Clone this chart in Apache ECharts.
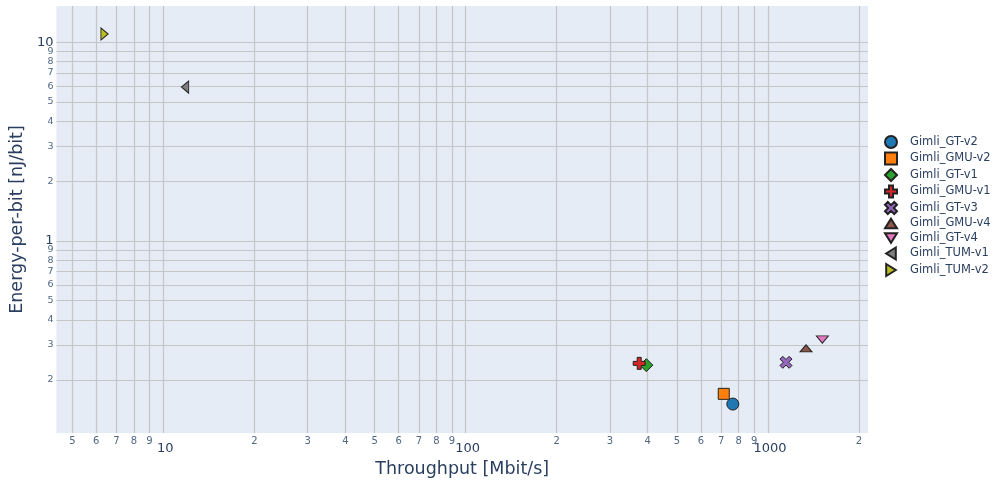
<!DOCTYPE html>
<html>
<head>
<meta charset="utf-8">
<script src="https://cdn.jsdelivr.net/npm/echarts@6/dist/echarts.min.js"></script>
<style>html,body{margin:0;padding:0;background:#fff}#c{width:1006px;height:486px}</style>
</head>
<body>
<div id="c"></div>
<script>
const names = ['Gimli_GT-v2','Gimli_GMU-v2','Gimli_GT-v1','Gimli_GMU-v1','Gimli_GT-v3','Gimli_GMU-v4','Gimli_GT-v4','Gimli_TUM-v1','Gimli_TUM-v2'];
const throughput = [765, 714, 396, 375, 1147, 1336, 1513, 11.8, 6.39];
const energy = [0.151, 0.170, 0.237, 0.242, 0.245, 0.288, 0.319, 5.94, 11.0];
const xTickValues = [5,6,7,8,9,10,20,30,40,50,60,70,80,90,100,200,300,400,500,600,700,800,900,1000,2000];
const yTickValues = [0.2,0.3,0.4,0.5,0.6,0.7,0.8,0.9,1,2,3,4,5,6,7,8,9,10];
const xMajor = [10,100,1000];
const yMajor = [1,10];
// extra blank label slot above the last tick so ECharts' edge-label overlap rule does not drop "9"/"10"
const yLabelValues = yTickValues.concat([15]);

const colors = ['#1f77b4','#ff7f0e','#2ca02c','#d62728','#9467bd','#8c564b','#e377c2','#7f7f7f','#bcbd22'];
const symbols = [
  'circle',
  'rect',
  'diamond',
  'path://M-1,-3 L1,-3 L1,-1 L3,-1 L3,1 L1,1 L1,3 L-1,3 L-1,1 L-3,1 L-3,-1 L-1,-1 Z',
  'path://M-3,-1.6 L-1.6,-3 L0,-1.4 L1.6,-3 L3,-1.6 L1.4,0 L3,1.6 L1.6,3 L0,1.4 L-1.6,3 L-3,1.6 L-1.4,0 Z',
  'path://M5,0 L10,8 L0,8 Z',
  'path://M0,0 L10,0 L5,8 Z',
  'path://M8,0 L8,10 L0,5 Z',
  'path://M0,0 L8,5 L0,10 Z'
];
const sizes = [12, 11, 13, 12, 12, [12,9], [12,9], [9,12], [9,12]];

const FONT = 'DejaVu Sans';
function leadDigit(v){ const e = Math.floor(Math.log10(v)+1e-9); return String(Math.round(v/Math.pow(10,e))); }
function isMajor(list, v){ return list.some(m => Math.abs(m - v) < 1e-6 * m); }

const series = names.map((n,i)=>({
  name: n,
  type: 'scatter',
  data: [[throughput[i], energy[i]]],
  symbol: symbols[i],
  symbolSize: sizes[i],
  symbolKeepAspect: true,
  itemStyle: {color: colors[i], borderColor: '#222', borderWidth: 1, opacity: 1},
  emphasis: {disabled: true}
}));

const gridLine = {show: true, lineStyle: {color: '#c4c5c9', width: 1.2}};

const option = {
  animation: false,
  textStyle: {fontFamily: FONT},
  grid: {left: 56, right: 138, top: 6, bottom: 53, show: true, backgroundColor: '#e5ecf6', borderWidth: 0},
  legend: {
    orient: 'vertical', left: 879, top: 130, itemWidth: 12, itemHeight: 12, itemGap: 2.5,
    textStyle: {fontFamily: FONT, fontSize: 11.5, lineHeight: 12, color: '#2a3f5f', padding: [0,0,0,8]},
    data: names
  },
  xAxis: {
    type: 'log', logBase: 10, min: 4.43, max: 2142,
    name: 'Throughput [Mbit/s]', nameLocation: 'middle', nameGap: 27,
    nameTextStyle: {fontFamily: FONT, fontSize: 17.5, color: '#2a3f5f'},
    axisLine: {show: false}, axisTick: {show: false, customValues: xTickValues},
    splitLine: gridLine, minorSplitLine: {show: false},
    axisLabel: {
      customValues: xTickValues, margin: 3, hideOverlap: false, showMinLabel: true, showMaxLabel: true,
      formatter: v => isMajor(xMajor, v) ? '{maj|' + Math.round(v) + '}' : '{mn|' + leadDigit(v) + '}',
      rich: {
        maj: {fontFamily: FONT, fontSize: 13, color: '#2a3f5f', padding: [6,0,0,4]},
        mn: {fontFamily: FONT, fontSize: 10, color: '#506784'}
      }
    }
  },
  yAxis: {
    type: 'log', logBase: 10, min: 0.108, max: 15.2,
    name: 'Energy-per-bit [nJ/bit]', nameLocation: 'middle', nameGap: 25,
    nameTextStyle: {fontFamily: FONT, fontSize: 17.5, color: '#2a3f5f'},
    axisLine: {show: false}, axisTick: {show: false, customValues: yTickValues},
    splitLine: gridLine, minorSplitLine: {show: false},
    axisLabel: {
      customValues: yLabelValues, margin: 3, hideOverlap: false,
      formatter: v => v > 12 ? '' : (isMajor(yMajor, v) ? '{maj|' + Math.round(v) + '}' : '{mn|' + leadDigit(v) + '}'),
      rich: {
        maj: {fontFamily: FONT, fontSize: 13, color: '#2a3f5f'},
        mn: {fontFamily: FONT, fontSize: 9.5, color: '#506784'}
      }
    }
  },
  series: series
};
const chart = echarts.init(document.getElementById('c'), null, {renderer: 'canvas'});
chart.setOption(option);
</script>
</body>
</html>
